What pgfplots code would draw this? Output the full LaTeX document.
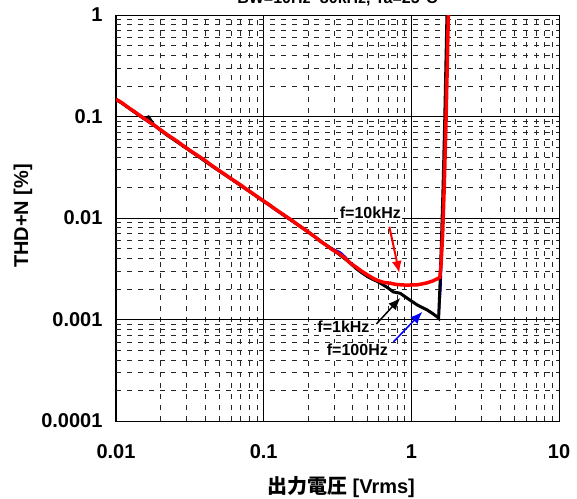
\documentclass[border=0pt]{standalone}
\usepackage{fontspec}
\setmainfont{Liberation Sans}
\newfontfamily\cjk{Noto Sans CJK JP}
\usepackage{pgfplots}
\pgfplotsset{compat=1.18}
\usetikzlibrary{arrows.meta}

\begin{document}
\begin{tikzpicture}
\useasboundingbox (0,0) rectangle (577pt,498pt);
\begin{axis}[
  at={(116pt,77pt)}, anchor=south west,
  scale only axis, width=443pt, height=406pt,
  xmode=log, ymode=log,
  xmin=0.01, xmax=10, ymin=1e-4, ymax=1,
  xtick={0.01,0.1,1,10}, xticklabels={0.01,0.1,1,10},
  ytick={0.0001,0.001,0.01,0.1,1}, yticklabels={0.0001,0.001,0.01,0.1,1},
  minor xtick={0.02,0.03,0.04,0.05,0.06,0.07,0.08,0.09,0.2,0.3,0.4,0.5,0.6,0.7,0.8,0.9,2,3,4,5,6,7,8,9},
  minor ytick={0.0002,0.0003,0.0004,0.0005,0.0006,0.0007,0.0008,0.0009,0.002,0.003,0.004,0.005,0.006,0.007,0.008,0.009,0.02,0.03,0.04,0.05,0.06,0.07,0.08,0.09,0.2,0.3,0.4,0.5,0.6,0.7,0.8,0.9},
  grid=both,
  major grid style={black, line width=0.9pt, solid},
  minor grid style={black!85, line width=0.7pt, dash pattern=on 5pt off 6pt},
  major tick length=0pt, minor tick length=0pt,
  axis line style={line width=1pt},
  tick label style={font=\bfseries\fontsize{20}{24}\selectfont},
  xticklabel style={yshift=-20pt},
  yticklabel style={xshift=-10pt},
  clip=true,
]
% f=100Hz (blue)
\addplot[blue, line width=2pt] coordinates {
(0.01,0.147)(0.011,0.135)(0.0125,0.118)(0.014,0.105)(0.0155,0.094)(0.017,0.086)(0.019,0.077)(0.022,0.066)(0.026,0.056)(0.03,0.0485)(0.036,0.0405)(0.044,0.033)(0.053,0.0275)(0.064,0.0228)(0.077,0.019)(0.093,0.0157)(0.11,0.0133)(0.13,0.0112)(0.155,0.0094)(0.185,0.0079)(0.22,0.0066)(0.265,0.0054)(0.3,0.0049)(0.33,0.0046)(0.36,0.0041)(0.386,0.0036)(0.42,0.0032)(0.46,0.0029)(0.504,0.00265)(0.55,0.00248)(0.589,0.00237)(0.65,0.00218)(0.7,0.00203)(0.755,0.00187)(0.8,0.00184)(0.842,0.00181)(0.95,0.0016)(1.098,0.00139)(1.2,0.0013)(1.283,0.00124)(1.4,0.00114)(1.5,0.00106)(1.53,0.00103)(1.58,0.002)(1.62,0.006)(1.66,0.02)(1.70,0.08)(1.74,0.4)(1.78,2)
};
% f=1kHz (black)
\addplot[black, line width=3pt] coordinates {
(0.01,0.147)(0.011,0.135)(0.0125,0.118)(0.014,0.105)(0.0155,0.095)(0.0166,0.099)(0.018,0.083)(0.019,0.078)(0.022,0.066)(0.026,0.056)(0.03,0.0485)(0.036,0.0405)(0.044,0.033)(0.053,0.0275)(0.064,0.0228)(0.077,0.019)(0.093,0.0157)(0.11,0.0133)(0.13,0.0112)(0.155,0.0094)(0.185,0.0079)(0.22,0.0066)(0.265,0.0054)(0.3,0.0048)(0.33,0.0043)(0.36,0.0039)(0.386,0.0036)(0.42,0.0032)(0.46,0.0029)(0.504,0.00265)(0.55,0.00248)(0.589,0.00237)(0.65,0.00218)(0.7,0.00203)(0.755,0.00187)(0.8,0.00184)(0.842,0.00181)(0.95,0.0016)(1.098,0.00139)(1.2,0.0013)(1.283,0.00124)(1.4,0.00114)(1.5,0.00106)(1.53,0.00103)(1.56,0.002)(1.60,0.006)(1.64,0.02)(1.68,0.08)(1.72,0.4)(1.76,2)
};
% f=10kHz (red)
\addplot[red, line width=3.5pt] coordinates {
(0.01,0.148)(0.0105,0.142)(0.011,0.136)(0.0118,0.126)(0.0125,0.119)(0.0133,0.112)(0.014,0.106)(0.015,0.099)(0.016,0.093)(0.017,0.087)(0.018,0.083)(0.019,0.078)(0.02,0.074)(0.022,0.067)(0.024,0.0615)(0.026,0.057)(0.028,0.0525)(0.03,0.049)(0.033,0.0445)(0.036,0.041)(0.04,0.037)(0.044,0.0333)(0.048,0.0305)(0.053,0.0277)(0.058,0.0253)(0.064,0.023)(0.07,0.0211)(0.077,0.0191)(0.085,0.0173)(0.093,0.0158)(0.1,0.0147)(0.11,0.0134)(0.12,0.0122)(0.13,0.0113)(0.14,0.0105)(0.155,0.0095)(0.17,0.0086)(0.185,0.0079)(0.2,0.0073)(0.22,0.0066)(0.242,0.0059)(0.265,0.0054)(0.29,0.0049)(0.32,0.0045)(0.35,0.0041)(0.386,0.0036)(0.42,0.0033)(0.46,0.0030)(0.504,0.00275)(0.55,0.00255)(0.589,0.00243)(0.65,0.00232)(0.72,0.00228)(0.78,0.00222)(0.842,0.0022)(0.92,0.00218)(1.0,0.00219)(1.1,0.0022)(1.2,0.00225)(1.283,0.0023)(1.4,0.0024)(1.5,0.00252)(1.56,0.0026)(1.59,0.0035)(1.63,0.007)(1.67,0.02)(1.71,0.07)(1.75,0.3)(1.79,1.5)
};
% annotations
\node[fill=white, inner sep=1.5pt, font=\bfseries\fontsize{16}{19}\selectfont] at (axis cs:0.528,0.0112) {f=10kHz};
\draw[red, line width=2pt, -{Latex[length=12pt,width=10pt]}] (axis cs:0.71,0.0082) -- (axis cs:0.829,0.00287);
\node[fill=white, inner sep=1.5pt, font=\bfseries\fontsize{16}{19}\selectfont] at (axis cs:0.347,0.000844) {f=1kHz};
\draw[black, line width=1.5pt, -{Latex[length=12pt,width=10pt]}] (axis cs:0.58,0.000903) -- (axis cs:0.842,0.00163);
\node[fill=white, inner sep=1.5pt, font=\bfseries\fontsize{16}{19}\selectfont] at (axis cs:0.431,0.000501) {f=100Hz};
\draw[blue, line width=1.5pt, -{Latex[length=12pt,width=10pt]}] (axis cs:0.755,0.0006) -- (axis cs:1.187,0.00119);
\end{axis}
\node[anchor=base, font=\bfseries\fontsize{16}{19}\selectfont] at (337.5pt,494pt) {BW=10Hz\textasciitilde 80kHz, Ta=25°C};
\node[rotate=90, font=\bfseries\fontsize{20}{24}\selectfont] at (23pt,282pt) {THD+N [\%]};
\node[anchor=base, font=\bfseries\fontsize{20}{24}\selectfont] at (341pt,5pt) {{\cjk 出力電圧} [Vrms]};
\end{tikzpicture}
\end{document}
